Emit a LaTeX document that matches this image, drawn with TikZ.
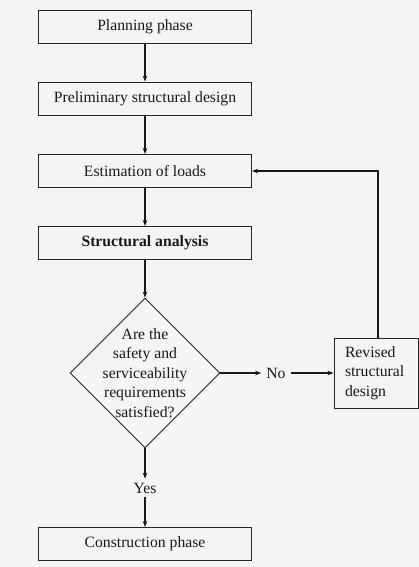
\documentclass[tikz,border=0pt]{standalone}
\usepackage{fontspec}
\setmainfont{Liberation Serif}
\usetikzlibrary{positioning, arrows.meta, shapes.geometric}
\newcommand{\flowfont}{\fontsize{15.7}{19.5}\selectfont}

\begin{document}
\begin{tikzpicture}[x=1pt, y=-1pt,
    box/.style={draw=black!85, line width=0.9pt, fill=black!4, minimum width=213pt,
                minimum height=33pt, inner sep=0pt, font=\flowfont, text=black!90},
    decision/.style={diamond, draw=black!85, line width=0.9pt, fill=black!4,
                minimum width=150pt, minimum height=150pt, inner sep=0pt},
    label/.style={font=\flowfont, align=center, inner sep=4pt, text=black!90},
    arrow/.style={-{Stealth[length=6pt, width=4.5pt]}, line width=1.4pt, draw=black!90}]
    % Background
    \fill[black!4] (0,0) rectangle (419,567);
    \useasboundingbox (0,0) rectangle (419,567);

    % Nodes
    \node[box] (plan) at (145,27) {Planning phase};
    \node[box] (prelim) at (145,98.5) {Preliminary structural design};
    \node[box] (loads) at (145,171) {Estimation of loads};
    \node[box] (analysis) at (145,243) {\textbf{Structural analysis}};
    \node[decision] (check) at (145,373) {};
    \node[label, inner sep=0pt] (checktext) at (check.center) {Are the\\safety and\\serviceability\\requirements\\satisfied?};
    \node[label, inner xsep=5pt] (no) at (276,373) {No};
    \node[box, minimum width=84pt, minimum height=70pt, text width=62pt, inner xsep=11pt,
          align=left] (revised) at (376,373) {Revised\\structural\\design};
    \node[label] (yes) at (145,488) {Yes};
    \node[box] (construct) at (145,544) {Construction phase};

    % Main flow
    \draw[arrow] (plan) -- (prelim);
    \draw[arrow] (prelim) -- (loads);
    \draw[arrow] (loads) -- (analysis);
    \draw[arrow] (analysis) -- (check);
    \draw[arrow] (check) -- (no);
    \draw[arrow] (no) -- (revised);
    \draw[arrow] (check) -- (yes);
    \draw[arrow] (yes) -- (construct);

    % Feedback loop
    \draw[arrow] ([xshift=2pt]revised.north) |- (loads.east);
\end{tikzpicture}
\end{document}
